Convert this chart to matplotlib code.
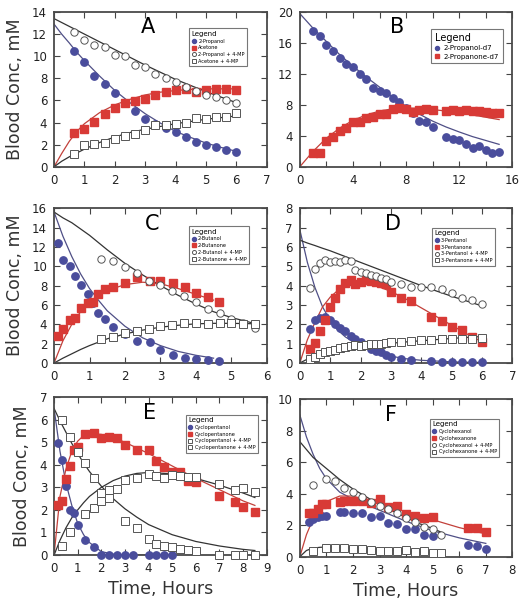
import matplotlib.pyplot as plt
from matplotlib.ticker import MultipleLocator

# ---- Panel A: 2-propanol ----
A_t = [0.67, 1.0, 1.33, 1.67, 2.0, 2.33, 2.67, 3.0, 3.33, 3.67, 4.0, 4.33, 4.67, 5.0, 5.33, 5.67, 6.0]
A_alc = [10.45, 9.46, 8.23, 7.46, 6.65, 5.75, 5.09, 4.28, 3.89, 3.47, 3.11, 2.69, 2.25, 2.0, 1.8, 1.56, 1.32]
A_ket = [3.02, 3.44, 4.04, 4.82, 5.3, 5.75, 5.99, 6.1, 6.47, 6.74, 6.95, 7.0, 6.8, 6.92, 7.07, 7.07, 6.98]
A_alc_mp = [12.19, 11.44, 11.05, 10.84, 10.15, 10.03, 9.25, 9.01, 8.35, 8.02, 7.69, 7.22, 6.86, 6.53, 6.35, 6.02, 5.75]
A_ket_mp = [1.2, 2.0, 2.05, 2.15, 2.55, 2.75, 3.0, 3.3, 3.75, 3.8, 3.85, 4.0, 4.45, 4.3, 4.5, 4.5, 4.9]
A_fit_t = [0, 0.25, 0.5, 0.75, 1, 1.5, 2, 2.5, 3, 3.5, 4, 4.5, 5, 5.5, 6]
A_fit_alc = [12.9, 12.0, 11.2, 10.35, 9.6, 8.2, 6.9, 5.8, 4.8, 3.95, 3.2, 2.65, 2.15, 1.75, 1.4]
A_fit_ket = [0, 1.2, 2.3, 3.2, 3.9, 4.9, 5.6, 6.1, 6.5, 6.75, 6.9, 7.0, 7.05, 7.05, 7.05]
A_fit_alc_mp = [13.4, 13.05, 12.7, 12.35, 12.0, 11.3, 10.6, 9.9, 9.2, 8.55, 7.9, 7.35, 6.8, 6.3, 5.8]
A_fit_ket_mp = [0, 0.5, 0.9, 1.25, 1.6, 2.2, 2.7, 3.1, 3.4, 3.65, 3.9, 4.1, 4.3, 4.45, 4.6]

# ---- Panel B: deuterated 2-propanol ----
B_t = [1, 1.5, 2, 2.5, 3, 3.5, 4, 4.5, 5, 5.5, 6, 6.5, 7, 7.5, 8, 8.5, 9, 9.5, 10,
       11, 11.5, 12, 12.5, 13, 13.5, 14, 14.5, 15]
B_alc = [17.6, 16.85, 15.77, 14.9, 14.04, 13.26, 12.87, 11.97, 11.32, 10.24, 9.85, 9.55, 8.94, 8.38,
         7.6, 6.91, 5.96, 5.83, 5.1, 3.89, 3.54, 3.41, 2.98, 2.38, 2.68, 2.12, 1.77, 1.86]
B_ket = [1.74, 1.81, 3.37, 3.84, 4.62, 5.01, 5.75, 5.83, 6.26, 6.44, 6.83, 6.87, 7.43, 7.65,
         7.5, 7.1, 7.3, 7.5, 7.3, 7.2, 7.4, 7.2, 7.3, 7.2, 7.2, 7.1, 6.9, 6.9]
B_fit_t = [0, 1, 2, 3, 4, 5, 6, 7, 8, 9, 10, 11, 12, 13, 14, 15]
B_fit_alc = [19.8, 17.9, 16.2, 14.5, 13.0, 11.6, 10.3, 9.0, 7.8, 6.8, 5.9, 5.15, 4.5, 3.9, 3.4, 2.9]
B_fit_ket = [0, 2.0, 3.7, 5.0, 6.0, 6.7, 7.2, 7.5, 7.6, 7.55, 7.4, 7.2, 7.0, 6.7, 6.4, 6.1]

# ---- Panel C: 2-butanol ----
C_t = [0.1, 0.25, 0.45, 0.6, 0.75, 0.95, 1.1, 1.25, 1.45, 1.65, 2.0, 2.35, 2.7, 3.0, 3.35, 3.7, 4.0, 4.35, 4.65]
C_alc = [12.4, 10.6, 10.0, 9.0, 8.1, 7.1, 6.2, 5.2, 4.55, 3.67, 3.0, 2.3, 2.15, 1.3, 0.86, 0.55, 0.45, 0.27, 0.24]
C_ket = [2.8, 3.5, 4.4, 4.6, 5.7, 6.2, 6.3, 7.15, 7.6, 7.9, 8.3, 8.85, 8.5, 8.45, 8.25, 7.9, 7.2, 6.8, 6.35]
C_mp_t = [1.33, 1.67, 2.0, 2.33, 2.67, 3.0, 3.33, 3.67, 4.0, 4.33, 4.67, 5.0, 5.33, 5.67]
C_alc_mp = [10.8, 10.5, 9.9, 9.3, 8.5, 8.1, 7.4, 6.9, 6.3, 5.6, 5.2, 4.5, 4.1, 3.6]
C_ket_mp = [2.45, 2.7, 3.05, 3.3, 3.5, 3.8, 3.9, 4.1, 4.15, 4.0, 4.15, 4.1, 4.05, 4.05]
C_fit_t = [0, 0.25, 0.5, 0.75, 1, 1.25, 1.5, 2, 2.5, 3, 3.5, 4, 4.5, 5, 5.75]
C_fit_alc = [15.6, 13.1, 11.0, 9.2, 7.7, 6.5, 5.4, 3.8, 2.6, 1.8, 1.2, 0.8, 0.5, None, None]
C_fit_ket = [0, 2.3, 4.0, 5.3, 6.3, 7.0, 7.5, 8.1, 8.35, 8.2, 7.7, 7.1, 6.5, None, None]
C_fit_alc_mp = [15.6, 15.0, 14.5, 13.85, 13.2, 12.45, 11.7, 10.3, 9.1, 8.0, 7.0, 6.1, 5.3, 4.7, 4.0]
C_fit_ket_mp = [0, 0.5, 0.95, 1.4, 1.8, 2.15, 2.5, 3.0, 3.4, 3.7, 3.9, 4.05, 4.1, 4.1, 4.05]

# ---- Panel D: 3-pentanol ----
D_t = [0.33, 0.5, 0.67, 0.83, 1.0, 1.17, 1.33, 1.5, 1.67, 1.83, 2.0, 2.17, 2.33, 2.5, 2.67, 2.83,
       3.0, 3.33, 3.67, 4.0, 4.33, 4.67, 5.0, 5.33, 5.67, 6.0]
D_alc = [1.76, 2.2, 2.33, 2.37, 2.2, 2.02, 1.82, 1.64, 1.42, 1.26, 1.07, 0.92, 0.74, 0.6, 0.55, 0.43,
         0.29, 0.19, 0.14, None, 0.09, 0.07, 0.07, 0.05, 0.03, 0.03]
D_ket = [0.7, 1.05, 1.65, 2.2, 2.9, 3.35, 3.8, 4.15, 4.28, 4.07, 4.2, 4.27, 4.24, 4.2, 4.15, 4.1,
         3.65, 3.36, 3.2, None, 2.37, 2.18, 1.87, 1.7, 1.33, 1.1]
D_alc_mp = [3.9, 4.85, 5.15, 5.3, 5.22, 5.26, 5.24, 5.3, 5.28, 4.83, 4.72, 4.64, 4.55, 4.48, 4.39, 4.33,
            4.2, 4.07, 3.95, 3.93, 3.93, 3.8, 3.63, 3.37, 3.24, 3.03]
D_ket_mp = [0.2, 0.33, 0.47, 0.55, 0.6, 0.69, 0.78, 0.85, 0.88, 0.92, 0.88, 0.92, 0.97, 0.99, 1.0, 1.04,
            1.06, 1.1, 1.14, 1.18, 1.21, 1.23, 1.23, 1.25, 1.26, 1.3]
D_fit_t = [0, 0.25, 0.5, 0.75, 1, 1.25, 1.5, 2, 2.5, 3, 3.5, 4, 4.5, 5, 5.5, 6]
D_fit_alc = [6.9, 5.2, 3.9, 2.9, 2.2, 1.7, 1.35, 0.85, 0.55, 0.35, 0.22, 0.14, 0.1, 0.06, 0.04, 0.03]
D_fit_ket = [0, 1.2, 2.1, 2.9, 3.4, 3.75, 3.95, 4.1, 4.0, 3.7, 3.3, 2.85, 2.4, 1.95, 1.5, 1.1]
D_fit_alc_mp = [6.35, 6.2, 6.07, 5.93, 5.8, 5.65, 5.5, 5.2, 4.9, 4.6, 4.3, 4.0, 3.72, 3.45, 3.2, 2.95]
D_fit_ket_mp = [0, 0.2, 0.35, 0.46, 0.55, 0.64, 0.72, 0.85, 0.94, 1.02, 1.09, 1.15, 1.21, 1.27, 1.32, 1.37]

# ---- Panel E: cyclopentanol ----
E_alc_t = [0.17, 0.33, 0.5, 0.67, 0.83, 1.0, 1.33, 1.67, 2.0, 2.33, 2.67, 3.0, 3.33, 4.0, 4.33, 4.67, 5.0]
E_alc = [4.95, 4.2, 3.06, 2.0, 1.86, 1.31, 0.65, 0.34, 0, 0, 0, 0, 0, 0, 0, 0, 0]
E_ket_t = [0.17, 0.33, 0.5, 0.67, 0.83, 1.0, 1.33, 1.67, 2.0, 2.33, 2.67, 3.0, 3.5, 4.0, 4.33, 4.67,
           5.0, 5.33, 5.67, 6.0, 7.0, 7.67, 8.0, 8.5]
E_ket = [2.2, 2.38, 3.39, 3.94, 4.65, 4.77, 5.35, 5.42, 5.2, 5.23, 5.17, 4.89, 4.64, 4.64, 4.15, 3.91,
         3.7, 3.67, 3.27, 3.22, 2.62, 2.36, 2.15, 1.9]
E_alc_mp_t = [0.33, 0.67, 1.0, 1.33, 1.67, 2.0, 2.33, 3.0, 3.5, 4.0, 4.33, 4.67, 5.0, 5.33, 5.67, 6.0,
              7.0, 7.67, 8.0, 8.5]
E_alc_mp = [6.0, 5.25, 4.55, 4.1, 3.42, 2.75, 2.54, 1.5, 1.19, 0.71, 0.49, 0.42, 0.37, 0.27, 0.22, 0.19,
            0, 0, 0, 0]
E_ket_mp_t = [0.33, 0.67, 1.33, 1.67, 2.0, 2.33, 2.67, 3.0, 3.5, 4.0, 4.33, 4.67, 5.0, 5.33, 5.67, 6.0,
              7.0, 7.67, 8.0, 8.5]
E_ket_mp = [0.42, 1.0, 1.8, 2.1, 2.4, 2.9, 2.93, 3.31, 3.43, 3.58, 3.52, 3.43, 3.54, 3.5, 3.46, 3.46,
            3.14, 2.87, 2.99, 2.78]
E_fit_t = [0, 0.25, 0.5, 0.75, 1, 1.25, 1.5, 2, 2.5, 3, 3.5, 4, 5, 6, 7, 8, 8.5]
E_fit_alc = [6.5, 4.6, 3.2, 2.2, 1.4, 0.9, 0.55, 0.15, 0.04, 0.01, 0, 0, 0, None, None, None, None]
E_fit_ket = [0, 2.6, 3.8, 4.6, 5.05, 5.3, 5.38, 5.35, 5.2, 5.0, 4.75, 4.5, 3.95, 3.4, 2.9, 2.4, 2.2]
E_fit_alc_mp = [6.5, 5.95, 5.45, 4.95, 4.5, 4.08, 3.7, 3.05, 2.5, 2.05, 1.68, 1.35, 0.9, 0.6, 0.4, 0.25, 0.2]
E_fit_ket_mp = [0, 0.65, 1.2, 1.65, 2.0, 2.32, 2.6, 3.0, 3.3, 3.5, 3.62, 3.66, 3.6, 3.4, 3.1, 2.75, 2.55]

# ---- Panel F: cyclohexanol ----
F_t = [0.33, 0.5, 0.67, 0.83, 1.0, 1.5, 1.67, 2.0, 2.33, 2.67, 3.0, 3.33, 3.67, 4.0, 4.33, 4.67, 5.0,
       6.33, 6.67, 7.0]
F_alc = [2.22, 2.4, 2.5, 2.58, 2.6, 2.86, 2.86, 2.75, 2.8, 2.54, 2.58, 2.12, 2.05, 1.74, 1.76, 1.4, 1.31,
         0.74, 0.68, 0.51]
F_ket = [2.75, 2.8, 3.05, 3.33, 3.33, 3.5, 3.54, 3.54, 3.56, 3.39, 3.67, 3.14, 3.22, 2.71, 2.58, 2.48, 2.52,
         1.8, 1.84, 1.55]
F_mp_t = [0.5, 1.0, 1.33, 1.67, 2.0, 2.33, 2.67, 3.0, 3.33, 3.67, 4.0, 4.33, 4.67, 5.0, 5.33]
F_alc_mp = [4.55, 4.92, 4.83, 4.39, 4.13, 3.81, 3.5, 3.22, 3.0, 2.75, 2.44, 2.22, 1.91, 1.74, 1.36]
F_ket_mp = [0.38, 0.53, 0.57, 0.53, 0.51, 0.47, 0.42, 0.38, 0.34, 0.34, 0.42, 0.28, 0.34, 0.21, 0.21]
F_fit_t = [0, 0.25, 0.5, 0.75, 1, 1.5, 2, 2.5, 3, 3.5, 4, 4.5, 5, 5.4, 6, 7]
F_fit_alc = [9.0, 7.6, 6.5, 5.6, 4.95, 4.1, 3.65, 3.3, 2.95, 2.6, 2.25, 1.95, 1.65, 1.47, 1.2, 0.85]
F_fit_ket = [0, 1.4, 2.4, 3.1, 3.5, 3.85, 3.85, 3.6, 3.35, 3.1, 2.85, 2.6, 2.35, 2.15, 1.85, 1.45]
F_fit_alc_mp = [7.3, 6.8, 6.3, 5.95, 5.6, 4.9, 4.3, 3.8, 3.3, 2.9, 2.5, 2.1, 1.8, 1.5, None, None]
F_fit_ket_mp = [0, 0.4, 0.55, 0.6, 0.62, 0.6, 0.55, 0.5, 0.45, 0.4, 0.35, 0.3, 0.25, 0.22, None, None]

BLUE = "#4a4d9c"
RED = "#d83a36"
GRAY = "#555555"
BLUE_LINE = "#4f4f86"
RED_LINE = "#c2403a"


def fit_line(ax, t, y, color):
    pts = [(a, b) for a, b in zip(t, y) if b is not None]
    ax.plot([p[0] for p in pts], [p[1] for p in pts], color=color, lw=0.9, zorder=2)


def pts(ax, t, y, kind, label):
    keep = [(a, b) for a, b in zip(t, y) if b is not None]
    xs = [p[0] for p in keep]
    ys = [p[1] for p in keep]
    if kind == "alc":
        ax.plot(xs, ys, "o", ms=5.3, mfc=BLUE, mec=BLUE, ls="none", label=label, zorder=3, clip_on=False)
    elif kind == "ket":
        ax.plot(xs, ys, "s", ms=5.6, mfc=RED, mec=RED, ls="none", label=label, zorder=3, clip_on=False)
    elif kind == "alc_mp":
        ax.plot(xs, ys, "o", ms=5.3, mfc="white", mec=GRAY, mew=0.7, ls="none", label=label, zorder=3, clip_on=False)
    else:
        ax.plot(xs, ys, "s", ms=5.3, mfc="white", mec=GRAY, mew=0.7, ls="none", label=label, zorder=3, clip_on=False)


def style(ax, xmax, ymax, xmaj, ymaj, xminor=None, letter="", lx=0.45):
    ax.set_xlim(0, xmax)
    ax.set_ylim(0, ymax)
    ax.xaxis.set_major_locator(MultipleLocator(xmaj))
    ax.yaxis.set_major_locator(MultipleLocator(ymaj))
    if xminor:
        ax.xaxis.set_minor_locator(MultipleLocator(xminor))
    ax.tick_params(which="both", direction="in", top=True, right=True, length=4, width=0.8,
                   colors="#444444", labelsize=8.5, pad=5)
    ax.tick_params(labelcolor="#222222")
    for s in ax.spines.values():
        s.set_linewidth(1.3)
        s.set_color("#4a4a4a")
    ax.text(lx, 0.9, letter, transform=ax.transAxes, fontsize=15, ha="center", va="center")


def legend(ax, anchor, fs=3.6, tfs=5):
    lg = ax.legend(loc="upper right", bbox_to_anchor=anchor, title="Legend", fontsize=fs,
                   title_fontsize=tfs, frameon=True, fancybox=False, edgecolor="#555555",
                   markerscale=0.55, handlelength=0.8, handletextpad=0.5, borderpad=0.5,
                   labelspacing=0.35)
    lg._legend_box.align = "left"
    lg.get_frame().set_linewidth(0.8)


fig = plt.figure(figsize=(5.25, 6), dpi=100)
L, R, W = 0.103, 0.571, 0.405
axA = fig.add_axes([L, 0.722, W, 0.258])
axB = fig.add_axes([R, 0.722, W, 0.258])
axC = fig.add_axes([L, 0.395, W, 0.258])
axD = fig.add_axes([R, 0.395, W, 0.258])
axE = fig.add_axes([L, 0.075, W, 0.263])
axF = fig.add_axes([R, 0.072, W, 0.263])

# A
fit_line(axA, A_fit_t, A_fit_alc, BLUE_LINE)
fit_line(axA, A_fit_t, A_fit_ket, RED_LINE)
fit_line(axA, A_fit_t, A_fit_alc_mp, "#333333")
fit_line(axA, A_fit_t, A_fit_ket_mp, "#333333")
pts(axA, A_t, A_alc, "alc", "2-Propanol")
pts(axA, A_t, A_ket, "ket", "Acetone")
pts(axA, A_t, A_alc_mp, "alc_mp", "2-Propanol + 4-MP")
pts(axA, A_t, A_ket_mp, "ket_mp", "Acetone + 4-MP")
style(axA, 7, 14, 1, 2, letter="A", lx=0.44)
legend(axA, (0.92, 0.91))

# B
fit_line(axB, B_fit_t, B_fit_alc, BLUE_LINE)
fit_line(axB, B_fit_t, B_fit_ket, RED_LINE)
pts(axB, B_t, B_alc, "alc", "2-Propanol-d7")
pts(axB, B_t, B_ket, "ket", "2-Propanone-d7")
style(axB, 16, 20, 4, 4, xminor=2, letter="B", lx=0.46)
legend(axB, (0.97, 0.91), fs=5, tfs=7)

# C
fit_line(axC, C_fit_t, C_fit_alc, BLUE_LINE)
fit_line(axC, C_fit_t, C_fit_ket, RED_LINE)
fit_line(axC, C_fit_t, C_fit_alc_mp, "#333333")
fit_line(axC, C_fit_t, C_fit_ket_mp, "#333333")
pts(axC, C_t, C_alc, "alc", "2-Butanol")
pts(axC, C_t, C_ket, "ket", "2-Butanone")
pts(axC, C_mp_t, C_alc_mp, "alc_mp", "2-Butanol + 4-MP")
pts(axC, C_mp_t, C_ket_mp, "ket_mp", "2-Butanone + 4-MP")
style(axC, 6, 16, 1, 2, letter="C", lx=0.46)
legend(axC, (0.93, 0.90))

# D
fit_line(axD, D_fit_t, D_fit_alc, BLUE_LINE)
fit_line(axD, D_fit_t, D_fit_ket, RED_LINE)
fit_line(axD, D_fit_t, D_fit_alc_mp, "#333333")
fit_line(axD, D_fit_t, D_fit_ket_mp, "#333333")
pts(axD, D_t, D_alc, "alc", "3-Pentanol")
pts(axD, D_t, D_ket, "ket", "3-Pentanone")
pts(axD, D_t, D_alc_mp, "alc_mp", "3-Pentanol + 4-MP")
pts(axD, D_t, D_ket_mp, "ket_mp", "3-Pentanone + 4-MP")
style(axD, 7, 8, 1, 1, letter="D", lx=0.44)
legend(axD, (0.93, 0.89))

# E
fit_line(axE, E_fit_t, E_fit_alc, BLUE_LINE)
fit_line(axE, E_fit_t, E_fit_ket, RED_LINE)
fit_line(axE, E_fit_t, E_fit_alc_mp, "#333333")
fit_line(axE, E_fit_t, E_fit_ket_mp, "#333333")
pts(axE, E_alc_t, E_alc, "alc", "Cyclopentanol")
pts(axE, E_ket_t, E_ket, "ket", "Cyclopentanone")
pts(axE, E_alc_mp_t, E_alc_mp, "ket_mp", "Cyclopentanol + 4-MP")
pts(axE, E_ket_mp_t, E_ket_mp, "ket_mp", "Cyclopentanone + 4-MP")
style(axE, 9, 7, 1, 1, letter="E", lx=0.45)
legend(axE, (0.97, 0.905))

# F
fit_line(axF, F_fit_t, F_fit_alc, BLUE_LINE)
fit_line(axF, F_fit_t, F_fit_ket, RED_LINE)
fit_line(axF, F_fit_t, F_fit_alc_mp, "#333333")
fit_line(axF, F_fit_t, F_fit_ket_mp, "#333333")
pts(axF, F_t, F_alc, "alc", "Cyclohexanol")
pts(axF, F_t, F_ket, "ket", "Cyclohexanone")
pts(axF, F_mp_t, F_alc_mp, "alc_mp", "Cyclohexanol + 4-MP")
pts(axF, F_mp_t, F_ket_mp, "ket_mp", "Cyclohexanone + 4-MP")
style(axF, 8, 10, 1, 2, letter="F", lx=0.43)
legend(axF, (0.95, 0.89))

for ax in (axA, axC, axE):
    ax.set_ylabel("Blood Conc, mM", fontsize=12.5, color="#333333", labelpad=6)
for ax in (axE, axF):
    ax.set_xlabel("Time, Hours", fontsize=12.5, color="#333333", labelpad=4)

fig.savefig("out.png", dpi=100)
